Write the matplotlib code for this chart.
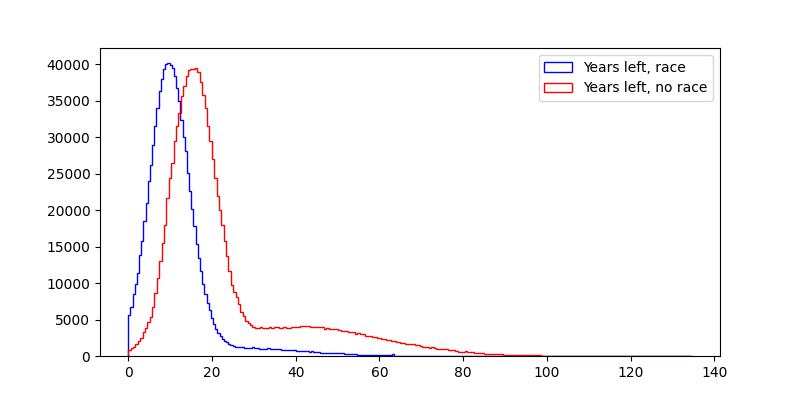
import numpy as np
import matplotlib
matplotlib.use("Agg")
import matplotlib.pyplot as plt

# Both histograms span 0 .. ~134.6 years, each with its own bin count.
x_max = 134.6

# counts per bin, "Years left, race"
race_counts = [
    5630, 6780, 8470, 9850, 11360, 13880, 15710, 18460, 20980, 23950,
    26240, 28990, 31510, 34030, 36320, 37920, 39300, 39980, 40210, 39890,
    39520, 38380, 36780, 34950, 32400, 30000, 28100, 25100, 22600, 20100,
    17800, 15300, 13400, 11600, 9900, 8500, 7200, 6300, 5200, 4400,
    3700, 3100, 2700, 2300, 2050, 1900, 1700, 1550, 1400, 1300,
    1250, 1200, 1300, 1150, 1150, 1150, 1140, 1240, 1050, 1050,
    960, 960, 960, 950, 1050, 915, 915, 910, 915, 900,
    780, 870, 860, 780, 780, 770, 780, 700, 640, 640,
    630, 640, 620, 520, 640, 580, 500, 490, 420, 410,
    405, 410, 400, 415, 410, 400, 405, 410, 400, 330,
    275, 270, 280, 275, 260, 150, 140, 137, 130, 137,
    140, 125, 137, 130, 120, 137, 125, 110, 120, 115,
    110, 230, 60,
    50, 45, 45, 40, 40, 38, 35, 35, 33, 30,
    30, 28, 27, 25, 25, 24, 22, 21, 20, 20,
    19, 18, 17, 17, 16, 15, 15, 14, 13, 13,
    12, 12, 11, 11, 10, 10, 10, 9, 9, 9,
    8, 8, 8, 7, 7, 7, 7, 6, 6, 6,
    6, 5, 5, 5, 5, 5, 4, 4, 4, 4,
    4, 4, 3, 3, 3, 3, 3, 3, 3, 2,
    2, 2, 2, 2, 2, 2, 2, 2, 1, 1,
    1, 1, 1, 1, 1, 1, 1, 1, 1, 1,
    1, 1, 1, 1, 1, 1, 1, 1, 1, 1,
    1, 1, 1, 1, 1, 1, 1, 1, 1, 1,
    1, 1, 1, 1, 1, 1, 1, 1, 1, 1,
    1, 1, 1, 1, 1, 1, 1, 1, 1, 1,
    1, 1, 1, 1, 1, 1,
]

# counts per bin, "Years left, no race"
norace_counts = [
    825, 1050, 1280, 1600, 2060, 2520, 3250, 3890, 4630, 5400,
    6780, 8610, 10670, 12960, 15480, 18000, 21660, 24410, 26500, 29500,
    31500, 33340, 35630, 37000, 38400, 39160, 39300, 39300, 39520, 38900,
    37500, 35800, 34000, 31500, 29500, 27000, 24400, 22000, 20000, 18000,
    15800, 13650, 11600, 9760, 8800, 8150, 7140, 6090, 5500, 4850,
    4490, 4260, 4030, 3900, 3880, 3950, 3870, 3890, 3900, 4000,
    3880, 3920, 3990, 3880, 3900, 3950, 3890, 3880, 3960, 3990,
    4030, 4040, 4170, 4170, 4160, 4170, 4030, 4040, 4020, 4030,
    4030, 4020, 3710, 3800, 3720, 3710, 3710, 3700, 3600, 3435,
    3435, 3420, 3250, 3250, 3240, 3000, 3110, 3050, 2980, 2790,
    2790, 2780, 2660, 2660, 2520, 2520, 2340, 2340, 2200, 2200,
    2100, 2060, 1920, 1900, 1790, 1790, 1690, 1690, 1600, 1590,
    1470, 1470, 1370, 1300, 1190, 1190, 1050, 1190, 1100, 1010,
    915, 915, 915, 900, 780, 780, 780, 640, 560, 500,
    600, 640, 500, 500, 480, 410, 410, 410, 400, 275,
    275, 280, 270, 275, 260, 270, 250, 160, 140, 137,
    130, 140, 137, 120, 130, 137, 110, 120, 137, 100,
    110, 90, 100, 60, 50, 45, 45, 40, 40, 35,
    35, 30, 30, 28, 25, 25, 22, 20, 20, 18,
    18, 16, 15, 15, 14, 12, 12, 11, 10, 10,
    9, 9, 8, 8, 7, 7, 6, 6, 6, 5,
    5, 5, 4, 4, 4, 4, 3, 3, 3, 3,
    2, 2, 2, 2, 2, 2, 1, 1, 1, 1,
    1, 1, 1, 1, 1, 1,
]

labels = ["Years left, race", "Years left, no race"]
colors = ["blue", "red"]

fig, ax = plt.subplots(figsize=(8, 4), dpi=100)

for counts, label, color in zip([race_counts, norace_counts], labels, colors):
    counts = np.asarray(counts, dtype=float)
    edges = np.linspace(0, x_max, len(counts) + 1)
    centers = 0.5 * (edges[:-1] + edges[1:])
    ax.hist(centers, bins=edges, weights=counts, histtype="step",
            color=color, label=label)

ax.legend(loc="upper right")
fig.savefig("out.png")
